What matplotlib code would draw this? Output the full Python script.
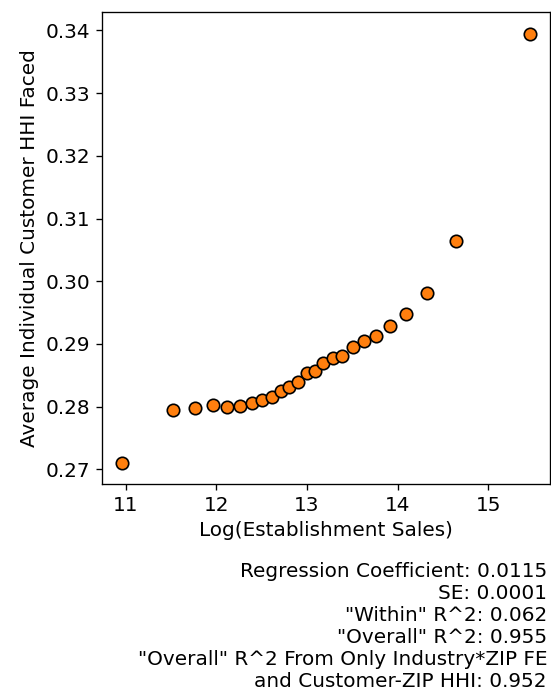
import matplotlib
matplotlib.use("Agg")
import matplotlib.pyplot as plt

log_sales = [10.965, 11.524, 11.767, 11.962, 12.124, 12.264, 12.393, 12.510, 12.617,
             12.716, 12.808, 12.907, 13.000, 13.092, 13.183, 13.283, 13.390, 13.508,
             13.625, 13.757, 13.912, 14.096, 14.324, 14.648, 15.457]
avg_hhi = [0.27107, 0.27952, 0.27973, 0.28032, 0.27989, 0.28009, 0.28057, 0.28111, 0.28153,
           0.28255, 0.28308, 0.28395, 0.28536, 0.28574, 0.28695, 0.28775, 0.28813, 0.28957,
           0.29041, 0.29126, 0.29280, 0.29472, 0.29818, 0.30636, 0.33948]

stats_lines = [
    "Regression Coefficient: 0.0115",
    "SE: 0.0001",
    '"Within" R^2: 0.062',
    '"Overall" R^2: 0.955',
    '"Overall" R^2 From Only Industry*ZIP FE',
    "and Customer-ZIP HHI: 0.952",
]

k = 1.2
plt.rcParams['font.family'] = ['DejaVu Sans']
plt.rcParams['font.size'] = 12 * k
plt.rcParams['axes.linewidth'] = 0.8 * k
plt.rcParams['xtick.major.size'] = 3.5 * k
plt.rcParams['ytick.major.size'] = 3.5 * k
plt.rcParams['xtick.major.width'] = 0.8 * k
plt.rcParams['ytick.major.width'] = 0.8 * k
plt.rcParams['xtick.major.pad'] = 3.5 * k
plt.rcParams['ytick.major.pad'] = 3.5 * k
plt.rcParams['axes.labelpad'] = 4.0 * k

fig = plt.figure(figsize=(5.51, 6.98), dpi=100)
W, H = 551, 698
ax = fig.add_axes([102 / W, 1 - 484 / H, (550 - 102) / W, (484 - 12.3) / H])
ax.scatter(log_sales, avg_hhi, s=80, color='#ff7f0e', edgecolors='black', linewidths=1.2, zorder=3)
ax.set_xlabel("Log(Establishment Sales)")
ax.set_ylabel("Average Individual Customer HHI Faced")
ax.set_xticks([11, 12, 13, 14, 15])
ax.set_yticks([0.27, 0.28, 0.29, 0.30, 0.31, 0.32, 0.33, 0.34])

fig.text(547 / W, 1 - 562 / H, "\n".join(stats_lines), ha='right', va='top',
         multialignment='right', fontsize=12 * k, linespacing=1.2)

fig.savefig("out.png", dpi=100)
